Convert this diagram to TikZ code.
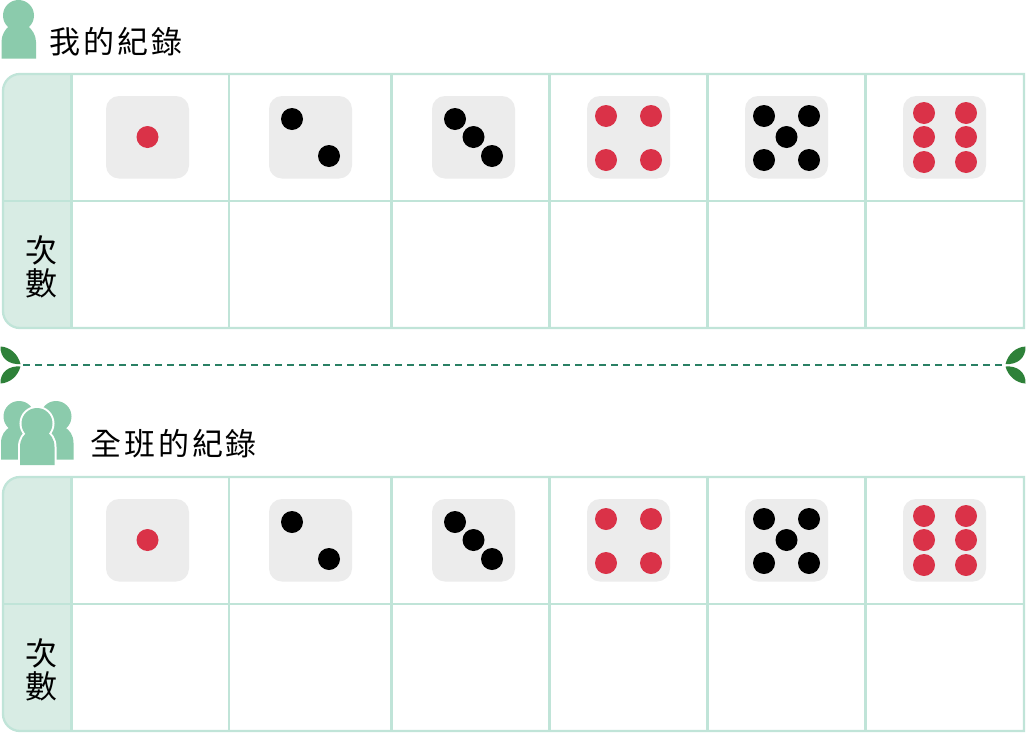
\documentclass[tikz,border=0pt]{standalone}
\usepackage{fontspec}
\newfontfamily\cjk[LetterSpace=9]{Noto Sans CJK TC}
\newfontfamily\cjkv{Noto Sans CJK TC}
\definecolor{gridc}{HTML}{C0E4D8}
\definecolor{headc}{HTML}{D8ECE4}
\definecolor{dief}{HTML}{ECECEC}
\definecolor{redp}{HTML}{DA3248}
\definecolor{pers}{HTML}{8BCBAC}
\definecolor{leafc}{HTML}{2E8139}
\definecolor{dashc}{HTML}{2A8064}
\tikzset{
  gridline/.style={draw=gridc,line width=2.3pt},
  headcell/.style={fill=headc},
  diebox/.style={fill=dief,rounded corners=13pt},
  rpip/.style={fill=redp},
  kpip/.style={fill=black},
  person/.style={fill=pers},
  personring/.style={fill=white,draw=white,line width=4pt},
  leafshape/.style={fill=leafc},
  sepline/.style={draw=dashc,line width=1.7pt,dash pattern=on 7pt off 5pt},
  titletext/.style={font=\cjk\fontsize{31}{31}\selectfont,anchor=west,inner sep=0pt,text=black},
  vertext/.style={font=\cjkv\fontsize{32}{32}\selectfont,inner sep=0pt,text=black},
}
\newcommand{\pipA}[3]{\fill[#1] (#2,#3) circle (11);}
\newcommand{\drawboard}[1]{%
\begin{scope}[yshift=-#1pt]
  % header column
  \fill[headcell] (71,328) -- (71,74) [rounded corners=17pt] -- (3,74) -- (3,328) [sharp corners] -- (71,328) -- cycle;
  % grid
  \draw[gridline] (1024,74) [rounded corners=17pt] -- (3,74) -- (3,328) [sharp corners] -- (1024,328) -- cycle;
  \draw[gridline] (3,201) -- (1024,201);
  \foreach \gx in {71.5,229,391.5,549.5,707.5,865.5} \draw[gridline] (\gx,74) -- (\gx,328);
  % dice
  \foreach \dx in {106,269,432,587,745,903}
    \fill[diebox] (\dx,96) rectangle ++(83,82.5);
  \pipA{rpip}{147.5}{137}
  \pipA{kpip}{292}{119}\pipA{kpip}{329}{156}
  \pipA{kpip}{455}{119}\pipA{kpip}{473.5}{137}\pipA{kpip}{492}{156}
  \pipA{rpip}{606}{116}\pipA{rpip}{651}{116}\pipA{rpip}{606}{160}\pipA{rpip}{651}{160}
  \pipA{kpip}{764}{116}\pipA{kpip}{809}{116}\pipA{kpip}{786.5}{137}\pipA{kpip}{764}{160}\pipA{kpip}{809}{160}
  \pipA{rpip}{924}{113}\pipA{rpip}{966}{113}\pipA{rpip}{924}{137}\pipA{rpip}{966}{137}\pipA{rpip}{924}{162}\pipA{rpip}{966}{162}
  \node[vertext] (ci#1) at (41,250) {次};
  \node[vertext] (shu#1) at (41,283) {數};
\end{scope}}
\newcommand{\bodyshape}[4]{% x-left, x-right, y-top, y-bottom
  (#1,#4) -- (#1,#3+16) .. controls (#1,#3+8) and (#1+4,#3+3) .. (#1+9,#3) -- (#2-9,#3) .. controls (#2-4,#3+3) and (#2,#3+8) .. (#2,#3+16) -- (#2,#4) -- cycle}
\begin{document}
\begin{tikzpicture}[x=1pt,y=-1pt]
\useasboundingbox (0,0) rectangle (1026,734);
\fill[white] (0,0) rectangle (1026,734);
% single person
\fill[person] (18.5,15.5) circle (15.5);
\fill[person] (1.5,58.5) -- (1.5,42) .. controls (1.5,35) and (5,29) .. (10,25.5) -- (27,25.5) .. controls (32,29) and (36,35) .. (36,42) -- (36,58.5) -- cycle;
\node[titletext] (mine) at (49.5,42) {我的紀錄};
\drawboard{0}
% separator
\fill[leafshape] (0.5,346.5) .. controls (10,347) and (18,354) .. (20.5,364) .. controls (9,365) and (0,358) .. (0.5,346.5) -- cycle;
\fill[leafshape] (0.5,383.5) .. controls (10,383) and (18,376) .. (20.5,366.5) .. controls (9,365.5) and (0,372) .. (0.5,383.5) -- cycle;
\fill[leafshape] (1025.5,346.5) .. controls (1016,347) and (1008,354) .. (1005.5,364) .. controls (1017,365) and (1026,358) .. (1025.5,346.5) -- cycle;
\fill[leafshape] (1025.5,383.5) .. controls (1016,383) and (1008,376) .. (1005.5,366.5) .. controls (1017,365.5) and (1026,372) .. (1025.5,383.5) -- cycle;
\coordinate (sepL) at (23,365);
\coordinate (sepR) at (1004,365);
\draw[sepline] (sepL) -- (sepR);
% group of persons
\fill[person] (19,416.5) circle (15.5);
\fill[person] \bodyshape{1}{36}{427}{459.5};
\fill[person] (56,416.5) circle (15.5);
\fill[person] \bodyshape{38}{73.5}{427}{459.5};
\fill[personring] \bodyshape{20}{54.5}{431}{465};
\fill[personring] (37,423.5) circle (15.5);
\fill[person] \bodyshape{20}{54.5}{431}{465};
\fill[person] (37,423.5) circle (15.5);
\node[titletext] (all) at (90.5,444) {全班的紀錄};
\drawboard{403}
\end{tikzpicture}
\end{document}
